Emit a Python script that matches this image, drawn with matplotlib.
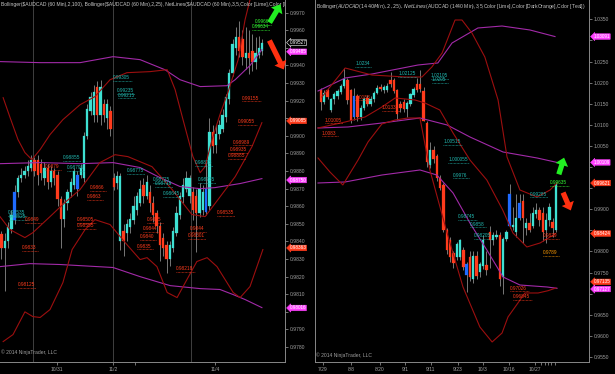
import numpy as np
import matplotlib
matplotlib.use("Agg")
import matplotlib.pyplot as plt

plt.rcParams['font.family'] = ['Liberation Sans', 'DejaVu Sans']

# ---------------- left panel: AUDCAD 60 min ----------------
L_open = [.9844, .9836, .9840, .9847, .9852, .9868, .9876, .9878, .9880, .9882,
          .9886, .9886, .9884, .9876, .9882, .9874, .9880, .9878, .9864, .9853,
          .9862, .9868, .9872, .9870, .9878, .9876, .9900, .9914, .9925, .9912,
          .9928, .9912, .9918, .9914, .9871, .9873, .9877, .9840, .9845, .9848,
          .9852, .9858, .9862, .9872, .9866, .9868, .9862, .9856, .9849, .9842,
          .9838, .9830, .9836, .9845, .9855, .9865, .9870, .9876, .9868, .9866,
          .9856, .9858, .9857, .9860, .9902, .9895, .9901, .9904, .9911, .9921,
          .9936, .9950, .9956, .9955, .9944, .9947, .9948, .9942, .9946, .9948]
L_high = [.9846, .9845, .9851, .9858, .9872, .9878, .9882, .9883, .9886, .9889,
          .9888, .9889, .9887, .9885, .9884, .9883, .9882, .9880, .9866, .9864,
          .9870, .9876, .9882, .9880, .9884, .9902, .9918, .9925, .9929, .9931,
          .9932, .9921, .9921, .9917, .9879, .9880, .9879, .9850, .9853, .9856,
          .9866, .9868, .9875, .9876, .9878, .9872, .9866, .9858, .9851, .9845,
          .9840, .9840, .9848, .9860, .9868, .9876, .9880, .9878, .9871, .9870,
          .9873, .9872, .9885, .9910, .9906, .9906, .9909, .9915, .9924, .9938,
          .9955, .9962, .9965, .9960, .9962, .9960, .9958, .9956, .9957, .9955]
L_low = [.9830, .9812, .9836, .9845, .9850, .9865, .9874, .9876, .9877, .9880,
         .9877, .9872, .9875, .9872, .9870, .9871, .9872, .9860, .9836, .9848,
         .9858, .9865, .9870, .9866, .9876, .9874, .9898, .9912, .9908, .9908,
         .9906, .9908, .9904, .9900, .9869, .9870, .9835, .9832, .9840, .9845,
         .9850, .9855, .9860, .9862, .9864, .9857, .9851, .9845, .9829, .9832,
         .9822, .9826, .9834, .9843, .9853, .9862, .9868, .9862, .9852, .9834,
         .9854, .9855, .9855, .9858, .9890, .9890, .9898, .9902, .9908, .9918,
         .9934, .9946, .9945, .9940, .9938, .9935, .9937, .9938, .9944, .9946]
L_close = [.9836, .9840, .9848, .9855, .9868, .9876, .9878, .9880, .9883, .9886,
           .9880, .9878, .9879, .9882, .9874, .9880, .9876, .9864, .9853, .9862,
           .9868, .9874, .9880, .9878, .9882, .9900, .9915, .9922, .9912, .9928,
           .9912, .9918, .9910, .9904, .9876, .9877, .9840, .9846, .9850, .9853,
           .9860, .9866, .9870, .9866, .9874, .9862, .9855, .9849, .9838, .9836,
           .9830, .9838, .9846, .9856, .9866, .9872, .9876, .9866, .9858, .9856,
           .9870, .9868, .9870, .9902, .9894, .9901, .9906, .9912, .9922, .9936,
           .9952, .9956, .9948, .9945, .9947, .9944, .9942, .9947, .9950, .99527]
L_col = ("rcccbccccc" "rrrcrcrrrc" "cccbcccccr" "crcrrccrcc"
         "cccrcrrrrr" "rcccccccrr" "ccbcrccccc" "ccrrcrrccc")

L_up25_x = [0.5, 2.6, 5.0, 7.1, 9.2, 11.7, 14.7, 18.6, 23.8, 28.3, 32.9, 38.0, 45.0,
            50.2, 52.6, 55.0, 58.0, 60.2, 61.7, 63.8, 66.2, 68.6, 71.7, 73.8, 75.3, 78.9]
L_up25 = [.99217, .99104, .98979, .98905, .98865, .98922, .99007, .99092, .99177,
          .99223, .99319, .99359, .99365, .99376, .99263, .99092, .98882, .98791,
          .98825, .98979, .99121, .99246, .99433, .99660, .99774, .99916]
L_mid25_x = [-0.45, 2.6, 7.1, 9.5, 14.7, 19.2, 23.8, 29.8, 34.4, 38.3, 45.6, 51.7,
             57.7, 61.7, 65.6, 70.8, 75.9, 78.9]
L_mid25 = [.98541, .98467, .98422, .98450, .98541, .98621, .98695, .98848, .98893,
           .98882, .98825, .98695, .98553, .98541, .98638, .98768, .98939, .99075]
L_lo25_x = [0.5, 3.5, 7.1, 9.5, 11.7, 14.7, 18.6, 21.4, 25.3, 28.3, 32.9, 38.0, 42.0,
            44.1, 47.1, 50.2, 53.2, 56.2, 59.2, 62.3, 65.3, 70.2, 72.3, 75.3, 79.2]
L_lo25 = [.97831, .97871, .98000, .97973, .97968, .98013, .98166, .98354, .98467,
          .98524, .98496, .98382, .98297, .98308, .98257, .98110, .98081, .98184,
          .98286, .98308, .98257, .98110, .98081, .98144, .98354]
L_up100_x = [-0.45, 11.7, 23.8, 33.8, 42.0, 49.5, 54.1, 60.2, 68.3, 70.8, 75.3, 78.9]
L_up100 = [.99422, .99416, .99416, .99450, .99433, .99376, .99319, .99280, .99285,
           .99319, .99400, .99490]
L_mid100_x = [-0.45, 11.7, 23.8, 33.8, 42.0, 48.0, 54.1, 60.2, 64.7, 72.3, 78.9]
L_mid100 = [.98842, .98848, .98842, .98848, .98820, .98763, .98712, .98700, .98706,
            .98729, .98757]
L_lo100_x = [-0.45, 8.6, 17.7, 33.8, 42.0, 51.1, 60.2, 66.2, 70.2, 73.8, 78.9]
L_lo100 = [.98257, .98274, .98269, .98252, .98200, .98149, .98132, .98127, .98098,
           .98070, .98024]

L_ticks = [round(0.9780 + 0.001 * k, 4) for k in range(20)]
L_dates = ["10/31", "11/2", "11/4"]
L_date_pos = [16.8, 33.8, 64.7]
L_sessions = [9.5, 33.8, 57.4]

L_lbl_x = [33.8, 35.0, 35.3, 18.6, 19.8, 2.0, 2.3, 38.0, 45.9, 46.5, 48.9, 58.6, 59.5,
           7.1, 6.2, 13.2, 26.8, 25.9, 22.9, 22.9, 44.1, 42.9, 42.0, 41.1, 57.1, 56.5,
           65.3, 52.9, 5.0, 72.9, 71.7, 70.2, 69.2, 68.6, 76.8, 75.9]
L_lbl_y = [.99329, .99255, .99232, .98875, .98818, .98562, .98539, .98801, .98750,
           .98727, .98670, .98846, .98750,
           .98522, .98363, .98824, .98704, .98653, .98522, .98488, .98522, .98471,
           .98426, .98374, .98471, .98431, .98562, .98244, .98153, .99215, .99080,
           .98965, .98920, .98886, .99647, .99619]
L_lbl_txt = ["0.99305", "0.99235", "0.99215", "0.98855", "0.98795", "0.98535", "0.98525",
             "0.98775", "0.98725", "0.98715", "0.98645", "0.98875", "0.98735",
             "0.9849", "0.9833", "0.9879", "0.9866", "0.9863", "0.98505", "0.98555",
             "0.9845", "0.9844", "0.9840", "0.9835", "0.9844", "0.98301", "0.98535",
             "0.98218", "0.98125", "0.99155", "0.99055", "0.98989", "0.98935", "0.98885",
             "0.9966", "0.99634"]
L_lbl_col = "c" * 13 + "r" * 21 + "gg"

L_mark_y = [.99530, .99478, .99085, .98749, .98363, .98022]
L_mark_txt = ["0.99527", "0.99485", "0.99085", "0.98750", "0.98363", "0.98016"]
L_mark_col = ["k", "m", "r", "m", "r", "m"]

# ---------------- right panel: AUDCAD 1440 min ----------------
R_open = [1.0182, 1.0155, 1.0183, 1.0135, 1.0160, 1.0168, 1.0178, 1.0192, 1.0206, 1.0182,
          1.0118, 1.0168, 1.0118, 1.0140, 1.0164, 1.0150, 1.0160, 1.0176, 1.0186, 1.0190,
          1.0182, 1.0196, 1.0206, 1.0182, 1.0150, 1.0155, 1.0138, 1.0150, 1.0170, 1.0182,
          1.0196, 1.0180, 1.0105, 1.0005, 1.0040, 1.0025, 0.9975, 0.9958, 0.9851, 0.9827,
          0.9796, 0.9787, 0.9787, 0.9804, 0.9770, 0.9787, 0.9735, 0.9790, 0.9752, 0.9765,
          0.9768, 0.9845, 0.9828, 0.9835, 0.9840, 0.9740, 0.9830, 0.9860, 0.9858, 0.9845,
          0.9880, 0.9920, 0.9855, 0.9868, 0.9860, 0.9888, 0.9898, 0.9890, 0.9850, 0.9875,
          0.9870, 0.9850]
R_high = [1.0187, 1.0183, 1.0187, 1.0164, 1.0178, 1.0185, 1.0196, 1.0234, 1.0210, 1.0186,
          1.0187, 1.0172, 1.0146, 1.0166, 1.0170, 1.0168, 1.0180, 1.0194, 1.0197, 1.0194,
          1.0200, 1.0225, 1.0212, 1.0186, 1.0156, 1.0160, 1.0156, 1.0176, 1.0190, 1.0210,
          1.0230, 1.0190, 1.0110, 1.0060, 1.0050, 1.0030, 0.9980, 0.9962, 0.9855, 0.9835,
          0.9800, 0.9822, 0.9830, 0.9810, 0.9775, 0.9800, 0.9800, 0.9800, 0.9775, 0.9840,
          0.9800, 0.9860, 0.9845, 0.9850, 0.9845, 0.9835, 0.9852, 0.9960, 0.9905, 0.9935,
          0.9935, 0.9935, 0.9880, 0.9890, 0.9905, 0.9915, 0.9905, 0.9905, 0.9890, 0.9915,
          0.9880, 0.9964]
R_low = [1.0136, 1.0150, 1.0161, 1.0130, 1.0150, 1.0162, 1.0174, 1.0188, 1.0150, 1.0105,
         1.0112, 1.0110, 1.0112, 1.0135, 1.0145, 1.0144, 1.0155, 1.0172, 1.0180, 1.0176,
         1.0178, 1.0190, 1.0175, 1.0112, 1.0130, 1.0130, 1.0118, 1.0145, 1.0166, 1.0178,
         1.0178, 1.0110, 1.0000, 0.9998, 1.0010, 0.9968, 0.9945, 0.9845, 0.9795, 0.9775,
         0.9760, 0.9780, 0.9780, 0.9755, 0.9705, 0.9730, 0.9725, 0.9735, 0.9740, 0.9758,
         0.9745, 0.9760, 0.9815, 0.9830, 0.9718, 0.9700, 0.9825, 0.9855, 0.9850, 0.9835,
         0.9875, 0.9820, 0.9840, 0.9845, 0.9855, 0.9880, 0.9860, 0.9825, 0.9820, 0.9860,
         0.9835, 0.9845]
R_close = [1.0155, 1.0175, 1.0166, 1.0162, 1.0172, 1.0180, 1.0192, 1.0208, 1.0159, 1.0112,
           1.0168, 1.0118, 1.0140, 1.0160, 1.0150, 1.0162, 1.0176, 1.0188, 1.0190, 1.0182,
           1.0192, 1.0206, 1.0180, 1.0125, 1.0140, 1.0138, 1.0152, 1.0172, 1.0185, 1.0196,
           1.0184, 1.0110, 1.0012, 1.0040, 1.0020, 0.9975, 0.9950, 0.9851, 0.9803, 0.9787,
           0.9772, 0.9818, 0.9827, 0.9763, 0.9745, 0.9740, 0.9790, 0.9742, 0.9770, 0.9826,
           0.9755, 0.9828, 0.9838, 0.9840, 0.9735, 0.9830, 0.9845, 0.9935, 0.9862, 0.9880,
           0.9915, 0.9880, 0.9868, 0.9850, 0.9890, 0.9898, 0.9875, 0.9845, 0.9875, 0.9905,
           0.9855, 0.9960]
R_col = "rcrcccccrrbrccrcccrc" "crrrrrcccrrrrcrrrrrr" "rccrbrcrcc" "rrccrccbccbrcrccrrccrc"

R_up25_x = [0.3, 7.3, 15.4, 25.4, 30.5, 33.5, 36.6, 40.5, 42.6, 45.6, 49.5, 53.5, 56.2,
            60.1, 65.3, 69.2, 71.3]
R_up25 = [1.01659, 1.02346, 1.02180, 1.02133, 1.02133, 1.02370, 1.02702, 1.03483, 1.03483,
          1.03175, 1.02607, 1.01588, 1.00238, 0.99456, 0.99290, 0.99456, 0.99621]
R_mid25_x = [-0.9, 7.3, 13.3, 18.4, 22.4, 28.4, 31.4, 35.9, 39.9, 45.0, 50.1, 54.9, 58.0,
             62.2, 66.2, 70.9]
R_mid25 = [1.00925, 1.01067, 1.01185, 1.01422, 1.01636, 1.01588, 1.01517, 1.01351, 1.00806,
           1.00167, 0.99693, 0.98982, 0.98437, 0.98106, 0.98201, 0.98424]
R_lo25_x = [-0.9, 2.7, 6.6, 11.2, 14.2, 18.4, 22.4, 26.3, 29.9, 32.9, 38.1, 42.9, 48.0,
            51.7, 54.7, 56.5, 59.5, 61.6, 65.6, 68.6, 71.0]
R_lo25 = [1.00214, 0.99883, 0.99575, 1.00167, 1.00593, 1.01020, 1.01114, 1.01162, 1.01162,
          0.99930, 0.98437, 0.97158, 0.96211, 0.95855, 0.96068, 0.96448, 0.96779, 0.97016,
          0.97016, 0.97070, 0.97135]
R_upB_x = [-0.9, 7.3, 15.4, 29.3, 35.3, 39.6, 47.4, 54.7, 63.1, 70.7]
R_upB = [1.01801, 1.02109, 1.02204, 1.02417, 1.02465, 1.02939, 1.03294, 1.03341, 1.03247,
         1.03091]
R_midB_x = [-0.9, 8.2, 18.4, 29.9, 38.1, 45.0, 55.0, 65.3, 71.3]
R_midB = [1.00925, 1.00949, 1.01043, 1.01162, 1.00996, 1.00712, 1.00356, 1.00214, 1.00109]
R_loB_x = [-0.9, 7.3, 18.4, 29.9, 35.0, 39.9, 45.0, 50.1, 55.0, 60.1, 68.3, 71.3]
R_loB = [0.99622, 0.99646, 0.99811, 0.99930, 0.99811, 0.99385, 0.98674, 0.98035, 0.97395,
         0.97205, 0.97158, 0.97127]

R_ticks = [round(0.9550 + 0.005 * k, 4) for k in range(17)]
R_dates = ["7/29", "8/8", "8/20", "9/1", "9/11", "9/23", "10/3", "10/16", "10/27"]
R_date_pos = [0.6, 9.1, 17.8, 25.4, 33.2, 41.4, 48.9, 56.8, 64.6]
R_minor = [66.5, 67.6, 68.6, 69.6, 70.7]

R_lbl_x = [10.3, 23.3, 33.2, 33.5, 36.9, 38.4, 39.9, 41.4, 45.0, 46.2, 63.1,
           69.2, 10.3, 18.4, 1.2, 0.3, 57.1, 58.0, 67.1, 67.1]
R_lbl_y = [1.02441, 1.02204, 1.02157, 1.02062, 1.00593, 1.00167, 0.99811, 0.98817, 0.98650,
           0.98367, 0.99361, 0.99622, 1.01659, 1.01399, 1.01114, 1.00806, 0.97134, 0.96921,
           0.98367, 0.97964]
R_lbl_txt = ["1.0234", "1.02125", "1.02105", "1.0205", "1.00515", "1.000055", "0.9976",
             "0.98745", "0.9858", "0.98205", "0.99285", "0.99635", "1.0153", "1.01335",
             "1.01005", "1.0083", "0.97026", "0.96845", "0.9829", "0.9789"]
R_lbl_col = "c" * 11 + "g" + "r" * 7 + "o"

R_mark_y = [1.03091, 1.00109, 0.99621, 0.98424, 0.97280, 0.97110]
R_mark_txt = ["1.03091", "1.00109", "0.99621", "0.98424", "0.97135", "0.97127"]
R_mark_col = ["m", "m", "r", "r", "r", "m"]

# ---------------- styling ----------------
UP, DN, BL = '#3ee0d2', '#ff3b1c', '#1f6bff'
WICK = '#8a8a8a'
BAND = '#9c0f0f'
PURP = '#a22aa8'
GRAY = '#a0a0a0'
LBL = {'c': '#22b8b0', 'r': '#ff3b1c', 'g': '#33ff33', 'o': '#ff9a00'}
MARK = {'m': ('#ff40ff', '#ff40ff', 'white'), 'r': ('#ff3b1c', '#ff3b1c', 'white'),
        'k': ('black', 'white', 'white')}
FS = 3.6


def candles(ax, o, h, l, c, col, minh):
    x = np.arange(len(o))
    o = np.array(o)
    c = np.array(c)
    ax.vlines(x, l, h, color=WICK, lw=0.6, zorder=2)
    cols = [{'c': UP, 'r': DN, 'b': BL}[k] for k in col]
    ax.bar(x, np.maximum(np.abs(c - o), minh), width=0.72, bottom=np.minimum(o, c),
           color=cols, edgecolor=cols, lw=0.2, zorder=3)


def labels(ax, xs, ys, txts, cols, dy):
    for x, y, s, k in zip(xs, ys, txts, cols):
        ax.text(x, y, s, fontsize=3.4, color=LBL[k], va='center', ha='left', zorder=6)
        ax.plot([x, x + len(s) * 0.8], [y - dy, y - dy], ls=(0, (1, 1)), lw=0.5,
                color=LBL[k], zorder=6)


def markers(ax, ys, txts, cols):
    for y, s, k in zip(ys, txts, cols):
        fc, ec, tc = MARK[k]
        ax.annotate(s, xy=(1.0, y), xycoords=('axes fraction', 'data'), xytext=(3.2, 0),
                    textcoords='offset points', ha='left', va='center', fontsize=3.3,
                    color=tc, annotation_clip=False, zorder=12,
                    bbox=dict(boxstyle='larrow,pad=0.06', fc=fc, ec=ec, lw=0.4))


def frame(ax, ticks, dates, dpos, left_spine, marks, gap):
    ax.set_facecolor('black')
    ax.spines['top'].set_visible(False)
    ax.spines['left'].set_visible(left_spine)
    for s in ('right', 'bottom', 'left'):
        ax.spines[s].set_color('#888888')
        ax.spines[s].set_linewidth(0.7)
    ax.yaxis.tick_right()
    ax.set_yticks(ticks)
    # tick labels that sit under a price marker are covered, as in the platform
    ax.set_yticklabels(["" if min(abs(t - m) for m in marks) < gap else f"{t:.4f}"
                        for t in ticks])
    ax.set_xticks(dpos)
    ax.set_xticklabels(dates)
    ax.tick_params(axis='both', colors=GRAY, labelsize=FS, length=2, width=0.5, pad=1.5)


fig = plt.figure(figsize=(6.15, 3.74), dpi=100, facecolor='black')
axL = fig.add_axes([0, 12 / 374, 285 / 615, 362 / 374])
axR = fig.add_axes([315 / 615, 12 / 374, 274 / 615, 362 / 374])

ARW = 'simple,head_length=0.55,head_width=0.95,tail_width=0.38'

# left
frame(axL, L_ticks, L_dates, L_date_pos, False, L_mark_y, 0.00036)
axL.set_xticks([40.4], minor=True)
axL.tick_params(axis='x', which='minor', colors=GRAY, length=2, width=0.5)
for s in L_sessions:
    axL.axvline(s, color='#4a4a4a', lw=0.6, zorder=1)
axL.plot(L_up100_x, L_up100, color=PURP, lw=0.8, zorder=4)
axL.plot(L_mid100_x, L_mid100, color=PURP, lw=0.8, zorder=4)
axL.plot(L_lo100_x, L_lo100, color=PURP, lw=0.8, zorder=4)
axL.plot(L_up25_x, L_up25, color=BAND, lw=0.8, zorder=4)
axL.plot(L_mid25_x, L_mid25, color=BAND, lw=0.8, zorder=4)
axL.plot(L_lo25_x, L_lo25, color=BAND, lw=0.8, zorder=4)
candles(axL, L_open, L_high, L_low, L_close, L_col, 0.00005)
labels(axL, L_lbl_x, L_lbl_y, L_lbl_txt, L_lbl_col, 0.00017)
axL.set_xlim(-0.45, 85.9)
axL.set_ylim(0.97715, 0.99772)
markers(axL, L_mark_y, L_mark_txt, L_mark_col)
axL.text(0.003, 0.995, "Bollinger($AUDCAD (60 Min),2,100), Bollinger($AUDCAD (60 Min),2,25), "
         "NetLines($AUDCAD (60 Min),3,5,Color [Lime],Color [DarkOrange],Color [Teal])",
         transform=axL.transAxes, va='top', ha='left', fontsize=FS, color='#c8c8c8',
         clip_on=True, zorder=8)
axL.text(0.003, 0.02, "© 2014 NinjaTrader, LLC", transform=axL.transAxes, va='bottom',
         fontsize=FS, color=GRAY, zorder=8)
axL.annotate('', xy=(85.0, 0.99761), xytext=(80.8, 0.99630),
             arrowprops=dict(arrowstyle=ARW, color='#22ee22', lw=0),
             annotation_clip=False, zorder=9)
axL.annotate('', xy=(85.9, 0.99363), xytext=(80.8, 0.99556),
             arrowprops=dict(arrowstyle=ARW, color='#ff3010', lw=0),
             annotation_clip=False, zorder=9)

# right
frame(axR, R_ticks, R_dates, R_date_pos, True, R_mark_y, 0.0014)
axR.set_xticks(R_minor, minor=True)
axR.tick_params(axis='x', which='minor', colors=GRAY, length=2, width=0.5)
axR.plot(R_upB_x, R_upB, color=PURP, lw=0.8, zorder=4)
axR.plot(R_midB_x, R_midB, color=PURP, lw=0.8, zorder=4)
axR.plot(R_loB_x, R_loB, color=PURP, lw=0.8, zorder=4)
axR.plot(R_up25_x, R_up25, color=BAND, lw=0.8, zorder=4)
axR.plot(R_mid25_x, R_mid25, color=BAND, lw=0.8, zorder=4)
axR.plot(R_lo25_x, R_lo25, color=BAND, lw=0.8, zorder=4)
candles(axR, R_open, R_high, R_low, R_close, R_col, 0.0002)
labels(axR, R_lbl_x, R_lbl_y, R_lbl_txt, R_lbl_col, 0.0007)
axR.set_xlim(-1.81, 80.97)
axR.set_ylim(0.95381, 1.03957)
markers(axR, R_mark_y, R_mark_txt, R_mark_col)
axR.text(0.004, 0.995, "Bollinger($AUDCAD (1440 Min),2,25), NetLines($AUDCAD (1440 Min),3,5,"
         "Color [Lime],Color [DarkOrange],Color [Teal])",
         transform=axR.transAxes, va='top', ha='left', fontsize=FS, color='#c8c8c8',
         clip_on=True, zorder=8)
axR.text(0.004, 0.012, "© 2014 NinjaTrader, LLC", transform=axR.transAxes, va='bottom',
         fontsize=FS, color=GRAY, zorder=8)
axR.annotate('', xy=(73.7, 1.00285), xytext=(71.6, 0.99764),
             arrowprops=dict(arrowstyle=ARW, color='#22ee22', lw=0),
             annotation_clip=False, zorder=9)
axR.annotate('', xy=(75.8, 0.98911), xytext=(72.8, 0.99456),
             arrowprops=dict(arrowstyle=ARW, color='#ff3010', lw=0),
             annotation_clip=False, zorder=9)

fig.savefig("out.png", dpi=100, facecolor='black')
